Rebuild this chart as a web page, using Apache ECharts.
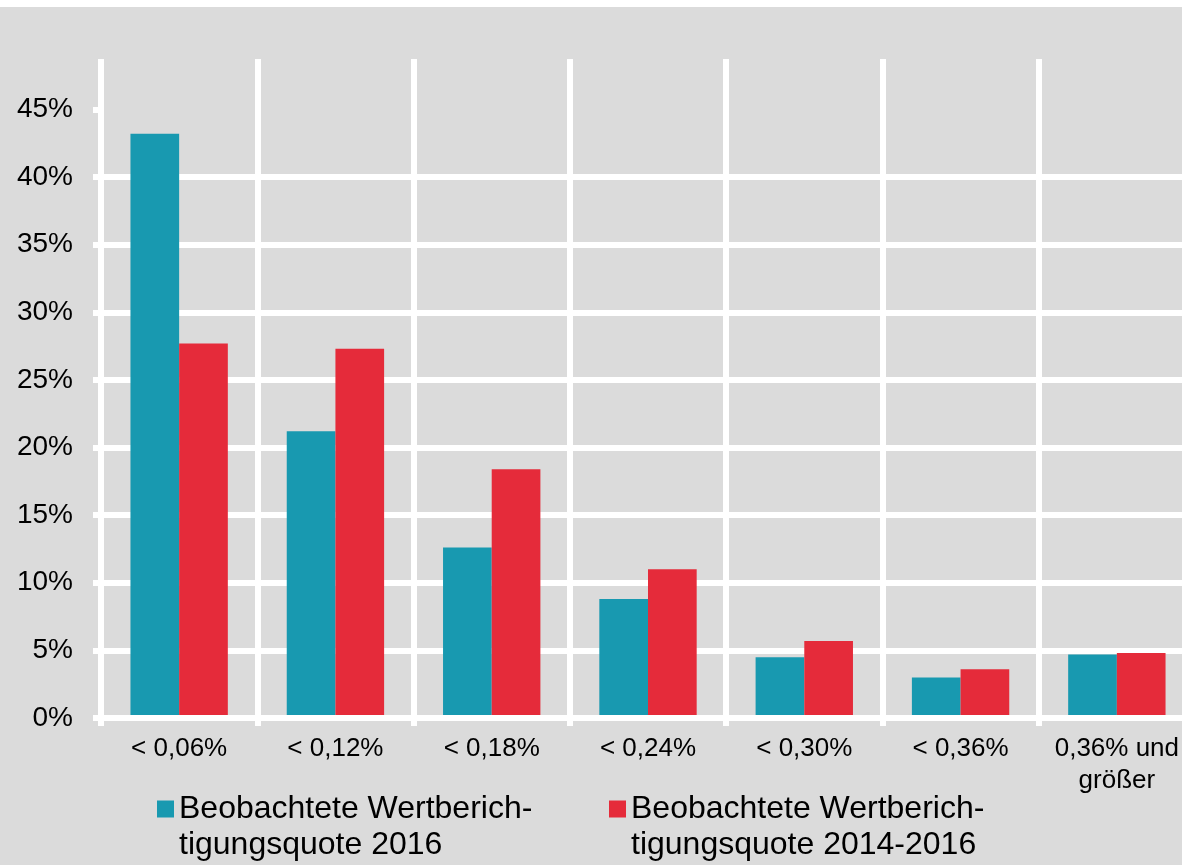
<!DOCTYPE html>
<html>
<head>
<meta charset="utf-8">
<script src="https://cdn.jsdelivr.net/npm/echarts@6/dist/echarts.min.js"></script>
<style>
  html, body { margin: 0; padding: 0; background: #dbdbdb; }
  #chart { width: 1182px; height: 865px; }
</style>
</head>
<body>
<div id="chart"></div>
<script>
// Kategorien (Wertberichtigungsquote)
var categories = ['< 0,06%', '< 0,12%', '< 0,18%', '< 0,24%', '< 0,30%', '< 0,36%', '0,36% und\ngrößer'];
var seriesNames = ['Beobachtete Wertberich-\ntigungsquote 2016', 'Beobachtete Wertberich-\ntigungsquote 2014-2016'];
var values2016 = [43.2, 21.2, 12.6, 8.8, 4.5, 3.0, 4.7];
var values2014_2016 = [27.7, 27.3, 18.4, 11.0, 5.7, 3.6, 4.8];
var yTicks = [0, 5, 10, 15, 20, 25, 30, 35, 40, 45];

var teal = '#1899b0';
var red = '#e52b3a';
var white = '#ffffff';

var chart = echarts.init(document.getElementById('chart'));

// Legende: Symbol auf Höhe der ersten Textzeile
function legendBlock(name, left) {
  return {
    data: [name],
    left: left,
    top: 755,
    padding: 0,
    itemWidth: 17,
    itemHeight: 17,
    icon: 'rect',
    formatter: function (n) { return '\n' + n; },
    textStyle: {
      fontSize: 32,
      lineHeight: 36,
      color: '#000'
    }
  };
}

var option = {
  backgroundColor: '#dbdbdb',
  animation: false,
  textStyle: { fontFamily: 'Liberation Sans, Arial, sans-serif' },
  graphic: [{
    type: 'rect',
    left: 0, top: 0,
    shape: { width: 1182, height: 7 },
    style: { fill: white },
    silent: true
  }],
  grid: {
    left: 101,
    width: 1094,
    top: 59,
    bottom: 147,
    outerBoundsMode: 'none',
    containLabel: false
  },
  legend: [legendBlock(seriesNames[0], 157), legendBlock(seriesNames[1], 609)],
  xAxis: {
    type: 'category',
    data: categories,
    boundaryGap: true,
    z: 5,
    axisLine: { show: true, lineStyle: { color: white, width: 6 } },
    axisTick: { show: true, interval: 0, length: 8, lineStyle: { color: white, width: 6 } },
    splitLine: { show: true, interval: 0, lineStyle: { color: white, width: 6 } },
    axisLabel: {
      interval: 0,
      fontSize: 26,
      lineHeight: 32,
      margin: 15,
      color: '#000'
    }
  },
  yAxis: {
    type: 'value',
    min: 0,
    max: 48.73,
    interval: 5,
    axisLine: { show: false },
    axisTick: {
      show: true,
      length: 8,
      customValues: yTicks,
      lineStyle: { color: white, width: 6 }
    },
    splitLine: {
      show: true,
      showMaxLine: false,
      lineStyle: { color: white, width: 6 }
    },
    axisLabel: {
      customValues: yTicks,
      formatter: '{value}%',
      fontSize: 28,
      margin: 28,
      color: '#000'
    }
  },
  series: [{
    name: seriesNames[0],
    type: 'bar',
    data: values2016,
    barGap: '0%',
    barCategoryGap: '37.7%',
    itemStyle: { color: teal }
  }, {
    name: seriesNames[1],
    type: 'bar',
    data: values2014_2016,
    barGap: '0%',
    barCategoryGap: '37.7%',
    itemStyle: { color: red }
  }]
};

chart.setOption(option);
</script>
</body>
</html>
